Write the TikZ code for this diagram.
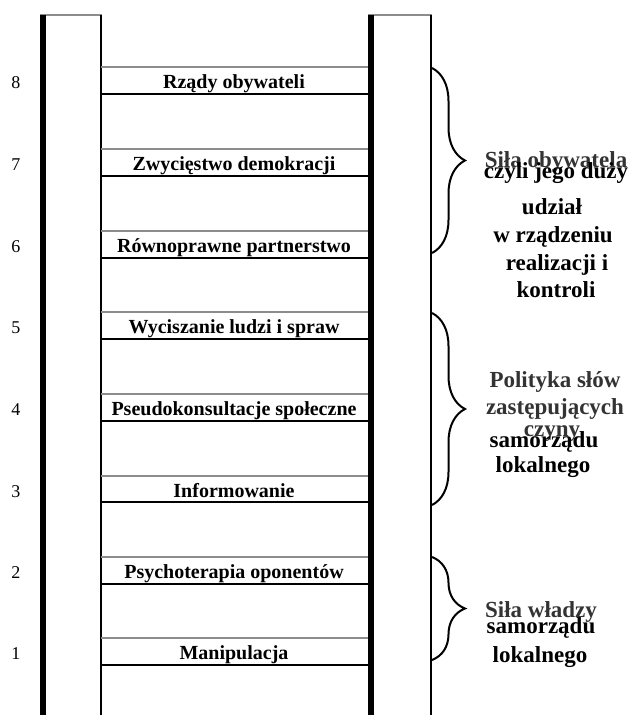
\documentclass[tikz,border=0pt]{standalone}
\usepackage{fontspec}
\setmainfont{Liberation Serif}
\usetikzlibrary{decorations.pathreplacing}
\begin{document}
\begin{tikzpicture}[x=1pt, y=-1pt,
    thickrail/.style={line width=6pt},
    thinrail/.style={line width=2pt},
    railtop/.style={line width=2.5pt, draw=black!45},
    rungtop/.style={line width=2.5pt, draw=black!45},
    rungbot/.style={line width=2.5pt},
    rungtext/.style={font=\fontsize{20}{20}\selectfont\bfseries, anchor=base, inner sep=0pt},
    nr/.style={font=\fontsize{18}{18}\selectfont, anchor=base, inner sep=0pt},
    sidetext/.style={font=\fontsize{23}{23}\selectfont\bfseries, anchor=base, inner sep=0pt},
    greytext/.style={sidetext, text=black!80},
    bracket/.style={decorate, decoration={brace, amplitude=33pt}, line width=2pt}]
  \useasboundingbox (0,0) rectangle (635,715);
  % rails
  \draw[railtop] (40,15) -- (102,15);
  \draw[railtop] (368,15) -- (432,15);
  \draw[thickrail] (43,15) -- (43,715);
  \draw[thinrail] (100.5,15) -- (100.5,715);
  \draw[thickrail] (371,15) -- (371,715);
  \draw[thinrail] (430.5,15) -- (430.5,715);
  % rungs
  \draw[rungtop] (101,67) -- (368,67);   \draw[rungbot] (101,94) -- (368,94);
  \draw[rungtop] (101,149) -- (368,149); \draw[rungbot] (101,176) -- (368,176);
  \draw[rungtop] (101,231) -- (368,231); \draw[rungbot] (101,258) -- (368,258);
  \draw[rungtop] (101,312) -- (368,312); \draw[rungbot] (101,339) -- (368,339);
  \draw[rungtop] (101,394) -- (368,394); \draw[rungbot] (101,421) -- (368,421);
  \draw[rungtop] (101,476) -- (368,476); \draw[rungbot] (101,502) -- (368,502);
  \draw[rungtop] (101,557) -- (368,557); \draw[rungbot] (101,584) -- (368,584);
  \draw[rungtop] (101,638) -- (368,638); \draw[rungbot] (101,665) -- (368,665);
  \node[rungtext] (r8) at (234,88) {Rządy obywateli};
  \node[rungtext] (r7) at (234,170) {Zwycięstwo demokracji};
  \node[rungtext] (r6) at (234,252) {Równoprawne partnerstwo};
  \node[rungtext] (r5) at (234,333) {Wyciszanie ludzi i spraw};
  \node[rungtext] (r4) at (234,415) {Pseudokonsultacje społeczne};
  \node[rungtext] (r3) at (234,497) {Informowanie};
  \node[rungtext] (r2) at (234,578) {Psychoterapia oponentów};
  \node[rungtext] (r1) at (234,659) {Manipulacja};
  \node[nr] (n8) at (16,88) {8};
  \node[nr] (n7) at (16,170) {7};
  \node[nr] (n6) at (16,252) {6};
  \node[nr] (n5) at (16,333) {5};
  \node[nr] (n4) at (16,415) {4};
  \node[nr] (n3) at (16,497) {3};
  \node[nr] (n2) at (16,578) {2};
  \node[nr] (n1) at (16,659) {1};
  % braces
  \coordinate (b1a) at (432,68);  \coordinate (b1b) at (432,253);
  \coordinate (b2a) at (432,313); \coordinate (b2b) at (432,505);
  \coordinate (b3a) at (432,557); \coordinate (b3b) at (432,660);
  \draw[bracket] (b1a) -- (b1b);
  \draw[bracket] (b2a) -- (b2b);
  \draw[bracket] (b3a) -- (b3b);
  % side texts
  \node[greytext] (s1) at (556,167) {Siła obywatela};
  \node[sidetext] (s2) at (556,178) {czyli jego duży};
  \node[sidetext] (s3) at (552,214) {udział};
  \node[sidetext] (s4) at (553,242) {w rządzeniu};
  \node[sidetext] (s5) at (557,270) {realizacji i};
  \node[sidetext] (s6) at (556,297) {kontroli};
  \node[greytext] (p1) at (555,387) {Polityka słów};
  \node[greytext] (p2) at (555,414) {zastępujących};
  \node[greytext] (p3) at (552,436) {czyny};
  \node[sidetext] (p4) at (544,447) {samorządu};
  \node[sidetext] (p5) at (543,472) {lokalnego};
  \node[greytext] (w1) at (541,617) {Siła władzy};
  \node[sidetext] (w2) at (541,633) {samorządu};
  \node[sidetext] (w3) at (540,662) {lokalnego};
\end{tikzpicture}
\end{document}
